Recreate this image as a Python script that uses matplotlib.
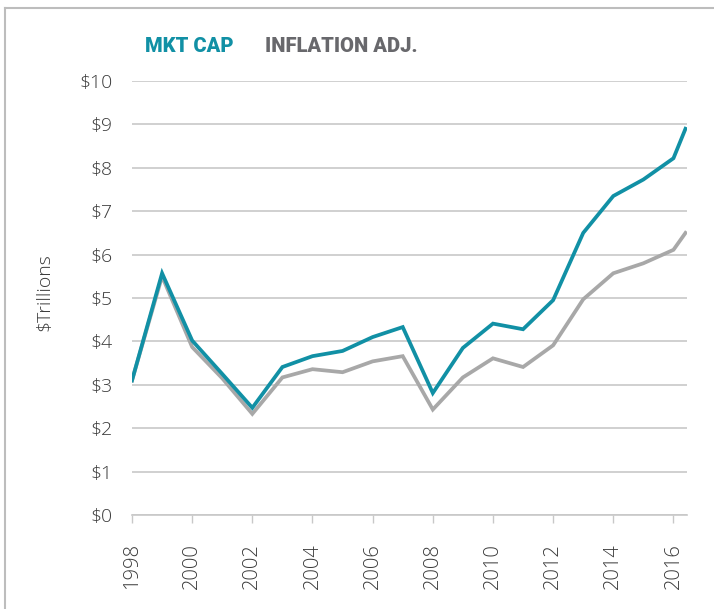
import matplotlib.pyplot as plt
from matplotlib.lines import Line2D

years = [1998, 1999, 2000, 2001, 2002, 2003, 2004, 2005, 2006, 2007,
         2008, 2009, 2010, 2011, 2012, 2013, 2014, 2015, 2016, 2016.4]
mkt_cap = [3.1, 5.57, 4.02, 3.25, 2.47, 3.41, 3.66, 3.78, 4.1, 4.33,
           2.81, 3.85, 4.41, 4.28, 4.95, 6.5, 7.35, 7.73, 8.22, 8.9]
infl_adj = [3.1, 5.5, 3.87, 3.15, 2.33, 3.17, 3.36, 3.29, 3.54, 3.66,
            2.43, 3.17, 3.61, 3.41, 3.91, 4.97, 5.57, 5.8, 6.11, 6.5]
xticks = list(range(1998, 2017, 2))
yticks = list(range(0, 11))
ylabels = ['$%d' % v for v in yticks]

teal = '#1190a5'
gray = '#a8a8a8'
txt = '#3a3a3a'

fig = plt.figure(figsize=(7.14, 6.09), dpi=100)
ax = fig.add_axes([132 / 714, 1 - 515 / 609, (687 - 132) / 714, (515 - 81) / 609])

ax.plot(years, infl_adj, color=gray, lw=2.7, solid_joinstyle='miter', zorder=3)
ax.plot(years, mkt_cap, color=teal, lw=2.7, solid_joinstyle='miter', zorder=4)

ax.set_xlim(1998, 2016.45)
ax.set_ylim(0, 10)
ax.set_yticks(yticks)
ax.set_yticklabels(ylabels)
ax.set_xticks(xticks)
ax.set_xticklabels([str(y) for y in xticks], rotation=90)
ax.grid(axis='y', color='#c8c8c8', lw=1.2)
ax.set_axisbelow(True)
for s in ['top', 'right', 'left']:
    ax.spines[s].set_visible(False)
ax.spines['bottom'].set_color('#c8c8c8')
ax.spines['bottom'].set_linewidth(1.2)
ax.tick_params(axis='y', length=0, pad=14, labelsize=14, labelcolor=txt)
ax.tick_params(axis='x', length=6, width=1, color='#c8c8c8', pad=14,
               labelsize=14.5, labelcolor=txt)
for lab in ax.get_xticklabels() + ax.get_yticklabels():
    lab.set_fontfamily('Open Sans')
    lab.set_fontweight('light')

fig.text(44 / 714, 1 - 292 / 609, '$Trillions', rotation=90, fontsize=14,
         color=txt, family='Open Sans', fontweight='light',
         ha='center', va='center')

fig.text(145 / 714, 1 - 46 / 609, 'MKT CAP', color=teal, fontsize=14.5,
         fontweight='heavy', family='Roboto', va='center')
fig.text(265 / 714, 1 - 46 / 609, 'INFLATION ADJ.', color='#68686c', fontsize=14.5,
         fontweight='heavy', family='Roboto', va='center')

# frame around the figure
fig.add_artist(Line2D([5 / 714, 1], [1 - 8 / 609, 1 - 8 / 609], color='#bdbdbd', lw=1.5))
fig.add_artist(Line2D([5 / 714, 5 / 714], [0, 1 - 8 / 609], color='#bdbdbd', lw=1.5))

fig.savefig('out.png', dpi=100)
